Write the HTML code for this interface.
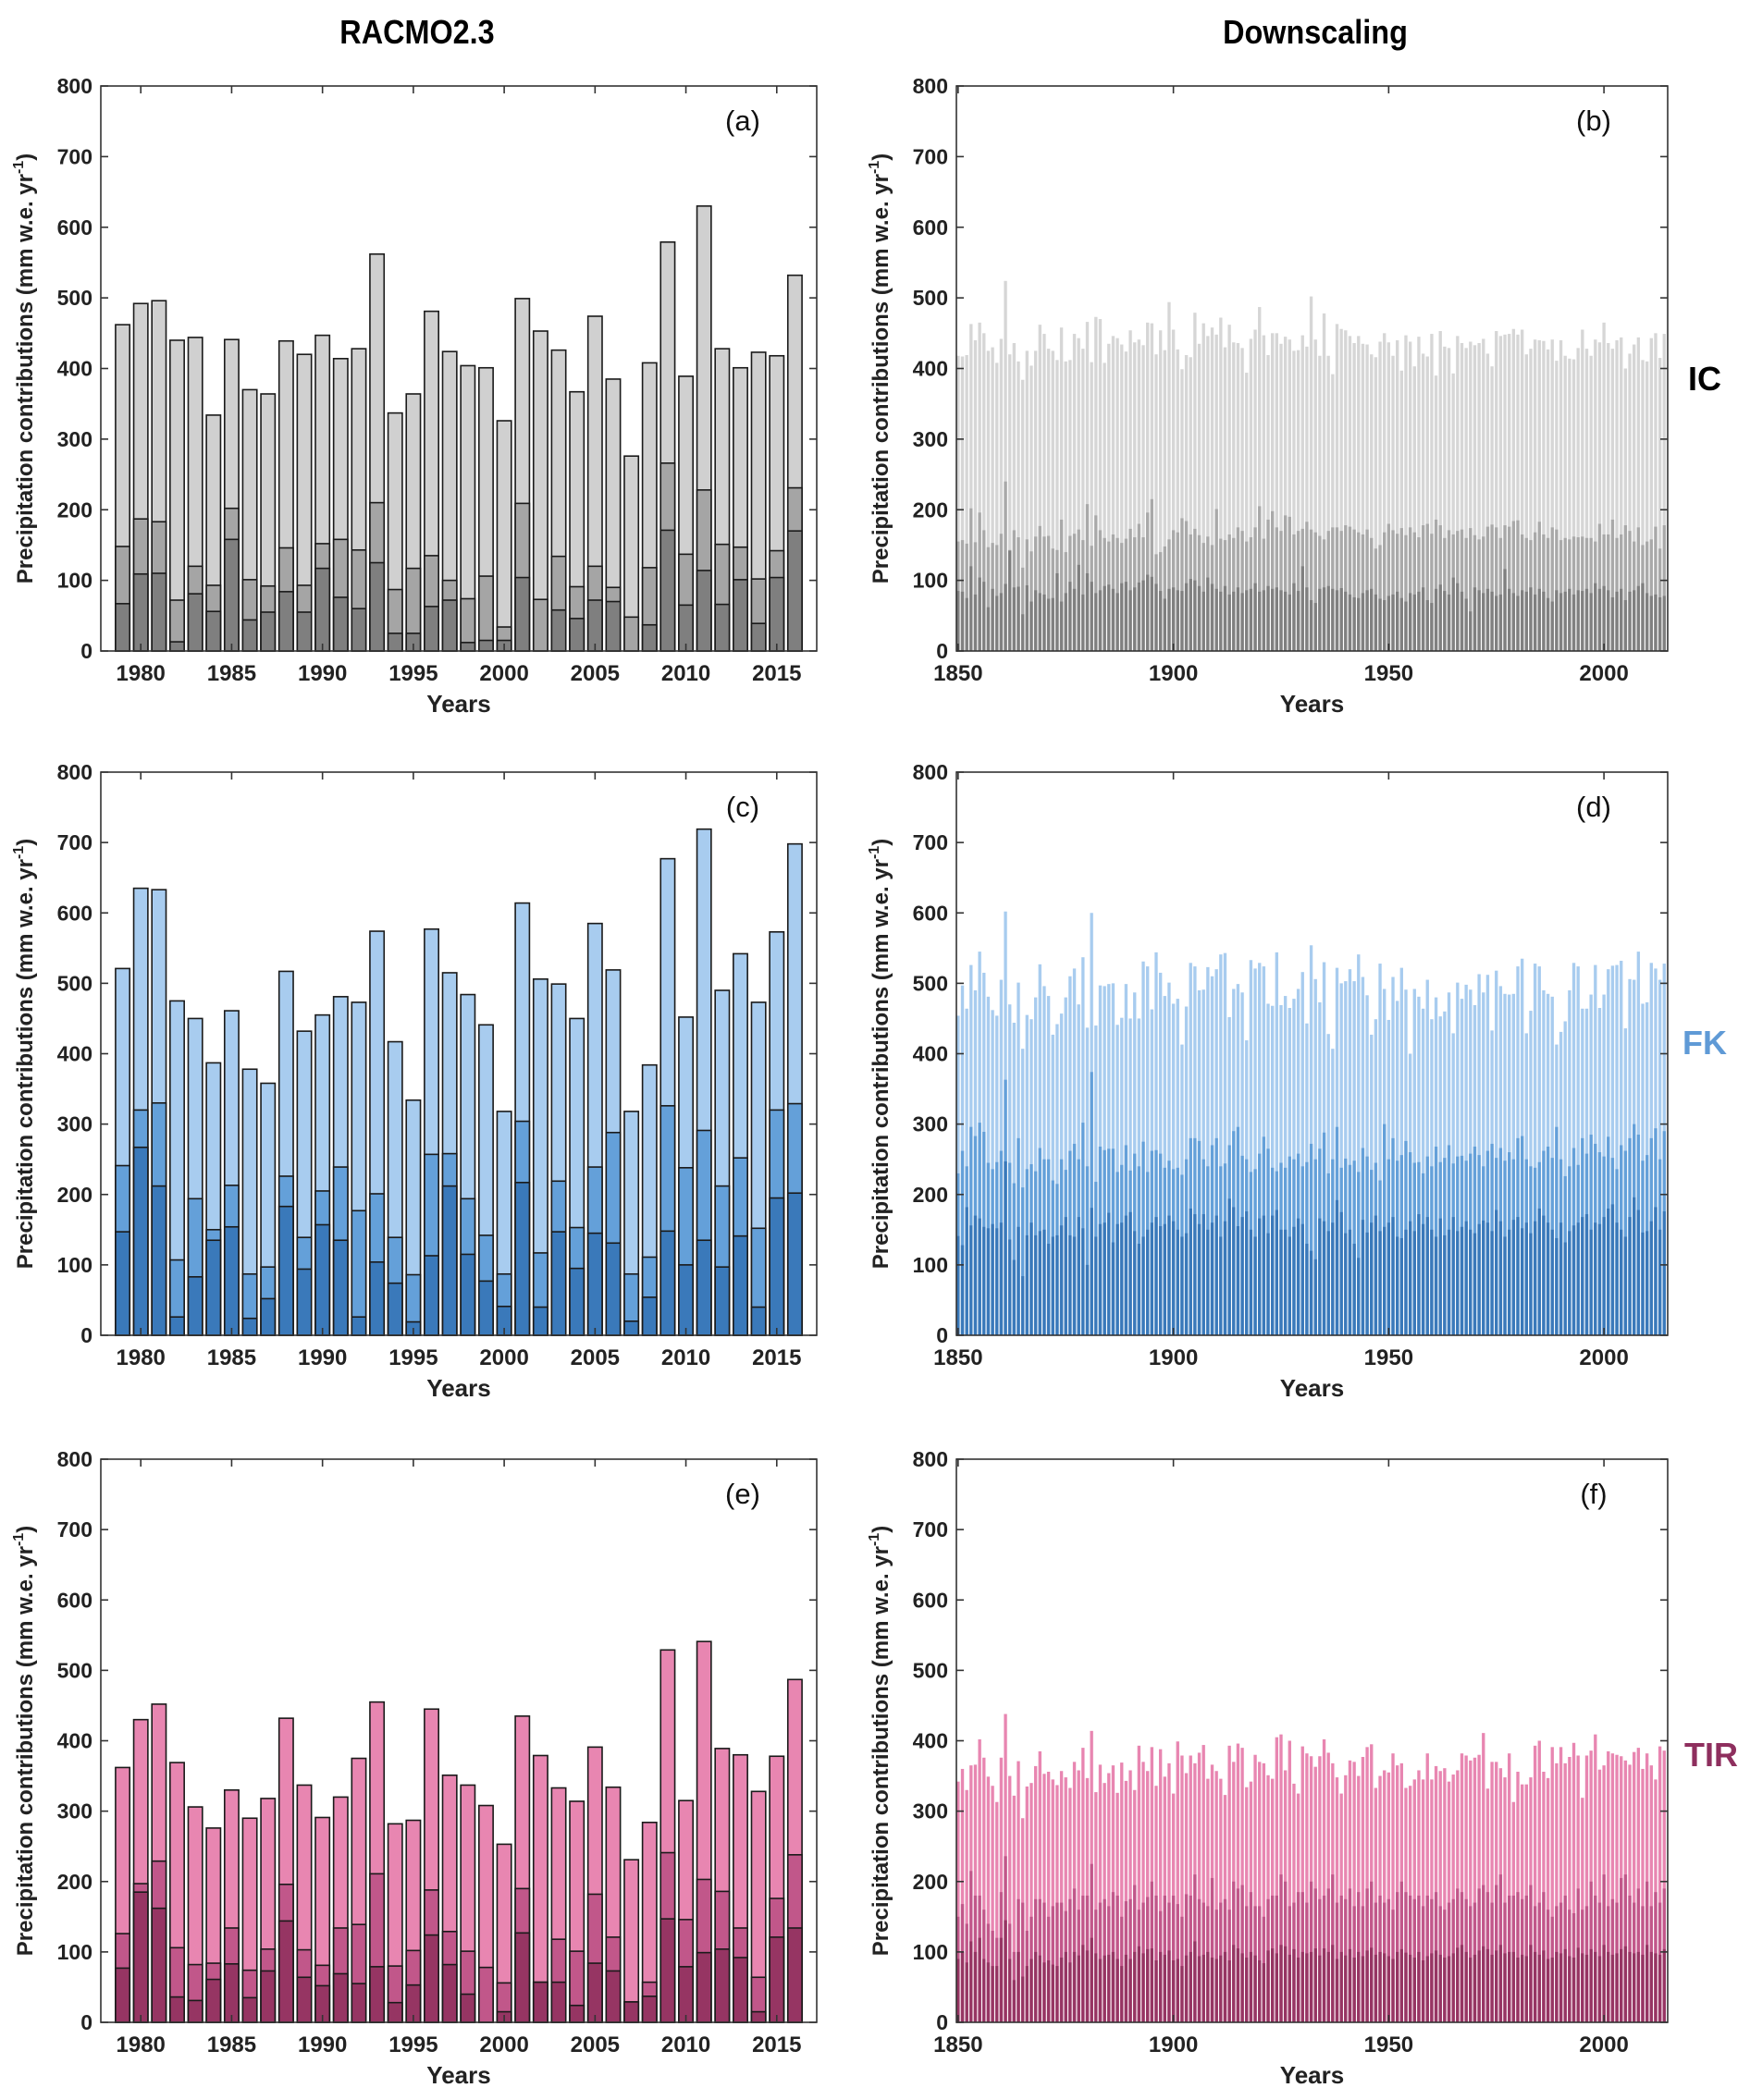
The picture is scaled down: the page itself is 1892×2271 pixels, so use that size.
<!DOCTYPE html>
<html><head><meta charset="utf-8">
<style>
html,body{margin:0;padding:0;background:#fff;}
svg{display:block;font-family:"Liberation Sans",Arial,sans-serif;}
</style></head>
<body>
<svg id="fig" width="1892" height="2271" viewBox="0 0 1892 2271" xmlns="http://www.w3.org/2000/svg">
<text x="451" y="47" font-size="36" font-weight="bold" text-anchor="middle" transform="translate(451 0) scale(0.9 1) translate(-451 0)">RACMO2.3</text>
<text x="1422" y="47" font-size="36" font-weight="bold" text-anchor="middle" transform="translate(1422 0) scale(0.9 1) translate(-1422 0)">Downscaling</text>
<text x="1843" y="422" font-size="36" font-weight="bold" text-anchor="middle" fill="#000">IC</text>
<text x="1843" y="1140" font-size="36" font-weight="bold" text-anchor="middle" fill="#5f9ad6">FK</text>
<text x="1850" y="1910" font-size="36" font-weight="bold" text-anchor="middle" fill="#8e2f5e">TIR</text>
</svg>
<script>
// ---- RACMO2.3 data (cumulative stack levels, 1979-2016) ----
const racmoYears = [1979,1980,1981,1982,1983,1984,1985,1986,1987,1988,1989,1990,1991,1992,1993,1994,1995,1996,1997,1998,1999,2000,2001,2002,2003,2004,2005,2006,2007,2008,2009,2010,2011,2012,2013,2014,2015,2016];
const icTotal = [462,492,496,440,444,334,441,370,364,439,420,447,414,428,562,337,364,481,424,404,401,326,499,453,426,367,474,385,276,408,579,389,630,428,401,423,418,532];
const icMid   = [148,187,183,72,120,93,202,101,92,146,93,152,158,143,210,87,117,135,100,74,106,34,209,73,134,91,120,90,48,118,266,137,228,151,147,102,142,231];
const icDark  = [67,109,110,13,81,56,158,44,55,84,55,117,76,60,125,25,25,63,72,12,15,15,104,0,58,46,72,70,0,37,171,65,114,66,101,39,104,170];
const fkTotal = [521,635,633,475,450,387,461,378,358,517,432,455,481,473,574,417,334,577,515,484,441,318,614,506,499,450,585,519,318,384,677,452,719,490,542,473,573,698];
const fkMid   = [241,320,330,107,194,150,213,87,97,226,139,205,239,177,201,139,86,257,258,194,142,87,304,117,219,153,239,288,87,111,326,238,291,212,252,152,320,329];
const fkDark  = [147,267,212,26,83,135,154,24,52,183,94,157,135,26,104,74,19,113,212,115,77,41,217,40,147,95,145,131,20,54,148,100,135,97,141,40,195,202];
const tirTotal = [362,430,452,369,306,276,330,290,318,432,337,291,320,375,455,282,287,445,351,337,308,253,435,379,333,314,391,334,231,284,529,315,541,389,380,328,378,487];
const tirMid   = [126,197,229,106,82,84,134,74,104,196,103,81,134,139,211,80,102,188,129,101,78,56,190,57,118,101,182,121,29,57,241,146,203,186,134,64,176,238];
const tirDark  = [77,185,162,36,31,61,83,35,73,144,64,52,69,55,79,28,53,124,82,40,0,15,127,57,57,24,84,73,29,37,147,79,99,104,92,15,121,134];

// ---- Downscaling data (1850-2014) ----
const dsStartYear = 1850;
const dsIcTotal = [418,417,419,463,440,465,450,425,430,408,442,524,420,436,410,
384,425,404,425,462,449,428,425,412,458,410,412,449,443,428,
466,409,473,470,408,435,446,443,434,424,454,437,441,433,465,
464,420,454,426,494,455,427,399,419,416,479,435,464,446,458,
448,472,430,462,437,436,429,394,442,455,487,447,419,450,450,
435,445,441,425,426,447,431,502,441,418,478,418,392,463,456,
454,446,436,446,435,434,420,416,438,450,437,418,440,397,447,
438,403,445,421,417,449,390,453,431,429,393,446,436,429,438,
433,436,442,421,403,453,446,448,449,456,448,455,420,428,441,
440,439,427,441,411,440,418,414,413,429,455,428,418,441,437,
465,436,428,440,444,400,421,434,444,412,410,443,450,415,449];
const dsIcMid = [155,157,152,202,154,196,171,147,153,150,166,240,143,171,161,
118,158,141,162,177,162,163,145,143,186,140,163,166,172,157,
208,149,192,171,160,155,165,160,153,159,173,161,180,161,196,
215,137,140,148,158,171,168,188,184,165,173,164,153,162,150,
201,159,157,165,160,175,170,155,161,175,205,159,186,198,175,
170,192,190,165,170,173,183,172,168,163,158,170,175,175,170,
178,176,172,168,165,172,160,145,150,168,180,171,166,174,164,
175,168,161,178,180,166,186,178,160,171,165,170,172,160,174,
164,158,162,176,179,175,160,178,176,184,185,165,160,157,168,
183,165,160,175,172,157,160,158,162,161,162,160,160,155,180,
165,165,186,160,165,178,170,155,175,150,155,158,176,145,178];
const dsIcDark = [85,84,75,120,80,104,98,62,88,78,82,95,142,90,91,
52,93,70,86,82,80,74,75,110,70,82,98,88,122,80,
110,98,82,86,92,94,88,82,96,98,86,90,97,100,108,
105,95,85,74,88,90,86,85,96,102,100,92,84,104,95,
88,84,92,80,84,90,82,86,88,96,84,86,92,88,90,
86,84,80,96,85,120,90,72,68,88,90,92,88,86,89,
84,80,76,75,82,86,88,80,74,72,78,80,84,75,70,
82,80,84,90,72,68,88,94,85,80,104,96,84,74,56,
90,86,82,88,84,78,80,116,88,82,78,86,84,90,80,
88,84,75,70,86,82,84,88,80,86,85,88,82,96,88,
92,86,76,84,88,72,84,86,92,96,82,78,80,76,78];
const dsFkTotal = [454,497,464,526,490,545,515,481,462,454,505,602,470,444,501,407,455,449,480,527,496,482,427,442,457,480,510,521,470,537,437,600,440,497,496,499,500,441,451,499,450,487,450,531,524,463,544,515,482,501,471,478,413,467,529,524,490,491,523,510,520,541,543,452,492,499,487,419,533,521,529,524,471,468,544,469,482,465,478,492,516,443,554,506,473,530,428,407,522,500,503,520,503,541,509,483,427,449,528,492,448,509,475,522,491,400,492,481,464,505,449,480,453,460,487,429,501,478,498,491,469,513,487,512,433,518,496,485,484,485,524,535,429,461,528,524,490,485,481,413,431,446,490,529,524,464,464,484,526,465,484,520,525,526,532,436,506,505,545,471,473,529,521,505,528];
const dsFkMid = [230,262,240,296,283,302,289,245,236,246,262,363,245,216,280,210,236,243,233,266,250,250,220,215,250,235,262,272,250,302,240,374,218,268,263,265,265,232,242,270,234,258,240,275,232,262,263,258,238,248,236,238,228,250,280,280,276,250,240,270,280,240,244,270,290,296,255,250,232,236,258,282,265,238,233,245,238,254,250,258,240,246,272,250,265,288,230,250,296,238,251,242,248,232,266,254,235,245,220,300,250,280,248,256,276,260,245,246,230,254,240,268,246,252,270,244,254,255,248,258,268,256,240,262,272,252,266,248,260,250,280,283,250,240,238,246,262,268,252,296,250,226,240,266,242,280,258,285,272,260,254,282,252,236,270,262,280,300,285,248,256,280,294,250,290];
const dsFkDark = [141,128,182,156,170,166,154,152,158,152,160,247,136,107,154,84,142,160,142,148,150,130,140,142,156,168,142,140,168,152,100,181,140,158,160,174,132,158,160,170,175,148,130,140,150,160,168,155,158,170,162,150,140,145,180,172,158,172,150,160,170,140,162,194,182,155,168,176,150,140,166,170,145,170,178,150,150,140,154,166,158,130,120,108,166,162,148,160,192,175,145,150,130,110,164,146,160,170,148,154,160,168,140,138,150,162,148,172,158,168,150,140,166,142,150,168,148,154,162,150,145,158,163,160,148,178,162,140,150,164,168,152,160,145,162,180,170,160,150,138,160,132,148,156,160,168,172,150,160,158,168,180,186,160,150,140,168,196,178,146,148,162,182,150,176];
const dsTirTotal = [342,360,330,365,366,402,376,349,336,313,376,438,350,322,371,290,335,340,364,385,353,356,345,337,357,348,333,370,358,390,347,414,327,366,340,354,365,326,369,343,358,330,393,370,357,391,336,388,349,368,325,399,379,354,379,368,383,394,346,366,357,346,323,393,370,396,390,334,342,380,370,368,351,346,405,409,358,400,339,325,392,382,378,363,378,402,383,368,348,325,351,372,370,350,377,391,395,333,350,358,355,382,365,368,333,336,345,358,345,382,345,364,357,361,342,352,358,382,379,372,376,380,411,332,370,370,361,348,382,313,356,338,338,348,393,400,356,347,391,368,391,368,377,397,379,319,379,386,409,359,365,385,382,380,378,372,366,384,390,360,382,365,345,392,386];
const dsTirMid = [150,168,140,215,180,180,160,140,130,120,185,236,140,100,175,170,130,150,175,175,170,150,165,170,170,158,175,190,160,180,180,225,160,170,175,165,185,180,150,172,175,195,160,170,178,200,180,158,180,170,180,168,150,182,180,210,175,170,165,205,160,170,175,160,200,190,195,165,185,165,165,150,175,180,180,210,200,165,170,185,185,170,200,190,175,180,190,210,170,180,175,190,165,185,165,190,200,170,180,170,175,160,185,200,185,180,175,180,165,180,175,185,165,160,170,175,190,185,175,165,170,190,195,185,170,195,210,170,180,180,185,175,180,195,165,170,185,160,150,165,170,180,160,155,190,160,165,200,180,170,210,165,175,170,205,210,180,170,190,165,200,165,185,170,190];
const dsTirDark = [90,100,85,115,100,120,90,85,80,80,120,145,90,60,100,65,80,90,100,95,85,88,82,80,92,100,85,100,95,110,102,120,98,90,95,96,100,90,80,96,90,100,108,98,104,105,88,100,96,102,88,90,80,95,100,115,94,96,100,92,90,95,100,88,110,105,98,92,100,95,88,84,102,105,98,110,108,96,104,92,100,98,100,105,95,105,100,110,90,100,95,104,92,100,94,102,106,96,100,98,94,90,100,104,99,96,92,100,88,94,98,102,96,92,94,98,106,110,100,92,96,102,108,104,96,102,110,98,100,100,92,96,94,110,100,96,102,90,92,100,98,104,94,92,106,98,96,104,100,94,110,100,96,98,104,108,100,98,100,96,110,100,98,96,104];

const yTicks = [0,100,200,300,400,500,600,700,800];
const racmoXTicks = [1980,1985,1990,1995,2000,2005,2010,2015];
const dsXTicks = [1850,1900,1950,2000];

const NS = "http://www.w3.org/2000/svg";
const svg = document.getElementById('fig');
function el(tag, attrs, parent){ const e=document.createElementNS(NS,tag); for(const k in attrs) e.setAttribute(k,attrs[k]); (parent||svg).appendChild(e); return e; }

const rows = [{top:93,bottom:704},{top:835,bottom:1444},{top:1578,bottom:2187}];
const pal = {
  ic:['#d0d0d0','#a5a5a5','#7f7f7f'],
  fk:['#a8ccef','#64a0d9','#3a79ba'],
  tir:['#e886b1','#c1578a','#963563']
};

function drawPanel(cfg){
  const g = el('g',{});
  
  
  const L=cfg.left,R=cfg.right,T=cfg.top,B=cfg.bottom;
  const xs = v => L + (v-cfg.x0)/(cfg.x1-cfg.x0)*(R-L);
  const ys = v => B - v/800*(B-T);
  const step = xs(cfg.x0+1)-xs(cfg.x0);
  const bw = step*cfg.bw;
  const levels=[cfg.total,cfg.mid,cfg.dark];
  const names=['light','mid','dark'];
  levels.forEach((arr,li)=>{
    arr.forEach((v,i)=>{
      const yr = cfg.years ? cfg.years[i] : cfg.start+i;
      if(yr>cfg.x1) return;
      if(v<=0) return;
      const r = el('rect',{x:xs(yr)-bw/2,y:ys(v),width:bw,height:B-ys(v),fill:cfg.colors[li]},g);
      if(cfg.outline){ r.setAttribute('stroke','#1a1a1a'); r.setAttribute('stroke-width','1.6'); }
      
      
    });
  });
  const box = el('rect',{x:L,y:T,width:R-L,height:B-T,fill:'none',stroke:'#333',"stroke-width":1.6},g);
  
  
  yTicks.forEach(t=>{
    const y=ys(t);
    el('line',{x1:L,x2:L+8,y1:y,y2:y,stroke:'#333','stroke-width':1.6},g);
    el('line',{x1:R-8,x2:R,y1:y,y2:y,stroke:'#333','stroke-width':1.6},g);
    const tx = el('text',{x:L-9,y:y+8,'font-size':23,'font-weight':'bold','text-anchor':'end',fill:'#222'},g);
    tx.textContent=t;
    
    
  });
  cfg.xticks.forEach(t=>{
    const x=xs(t);
    el('line',{x1:x,x2:x,y1:B,y2:B-8,stroke:'#333','stroke-width':1.6},g);
    el('line',{x1:x,x2:x,y1:T,y2:T+8,stroke:'#333','stroke-width':1.6},g);
    const tx = el('text',{x:x,y:B+32,'font-size':24,'font-weight':'bold','text-anchor':'middle',fill:'#222'},g);
    tx.textContent=t;
    
    
  });
  const xl = el('text',{x:(L+R)/2,y:B+66,'font-size':26,'font-weight':'bold','text-anchor':'middle',fill:'#222'},g);
  xl.textContent='Years';
  
  
  const yc=(T+B)/2, yx=L-74;
  const yl = el('text',{x:yx,y:yc,'font-size':24,'font-weight':'bold','text-anchor':'middle',fill:'#222',transform:`rotate(-90 ${yx} ${yc})`},g);
  yl.innerHTML='Precipitation contributions (mm w.e. yr<tspan dy="-10" font-size="16">-1</tspan><tspan dy="10">)</tspan>';
  
  
  const pl = el('text',{x:R-80,y:T+48,'font-size':31,'text-anchor':'middle',fill:'#111'},g);
  pl.textContent=cfg.label;
  
  
}

const racmoSets=[[icTotal,icMid,icDark,pal.ic,'(a)'],[fkTotal,fkMid,fkDark,pal.fk,'(c)'],[tirTotal,tirMid,tirDark,pal.tir,'(e)']];
const dsSets=[[dsIcTotal,dsIcMid,dsIcDark,['#d6d6d6','#a9a9a9','#808080'],'(b)'],[dsFkTotal,dsFkMid,dsFkDark,pal.fk,'(d)'],[dsTirTotal,dsTirMid,dsTirDark,pal.tir,'(f)']];
rows.forEach((r,i)=>{
  const a=racmoSets[i];
  drawPanel({name:'racmo-panel-'+i,left:109,right:883,top:r.top,bottom:r.bottom,x0:1977.8,x1:2017.2,years:racmoYears,total:a[0],mid:a[1],dark:a[2],colors:a[3],label:a[4],bw:0.78,outline:true,xticks:racmoXTicks});
  const d=dsSets[i];
  drawPanel({name:'downscaling-panel-'+i,left:1034,right:1803,top:r.top,bottom:r.bottom,x0:1849.6,x1:2014.8,start:dsStartYear,total:d[0],mid:d[1],dark:d[2],colors:d[3],label:d[4],bw:0.72,outline:false,xticks:dsXTicks});
});
</script>
</body></html>
